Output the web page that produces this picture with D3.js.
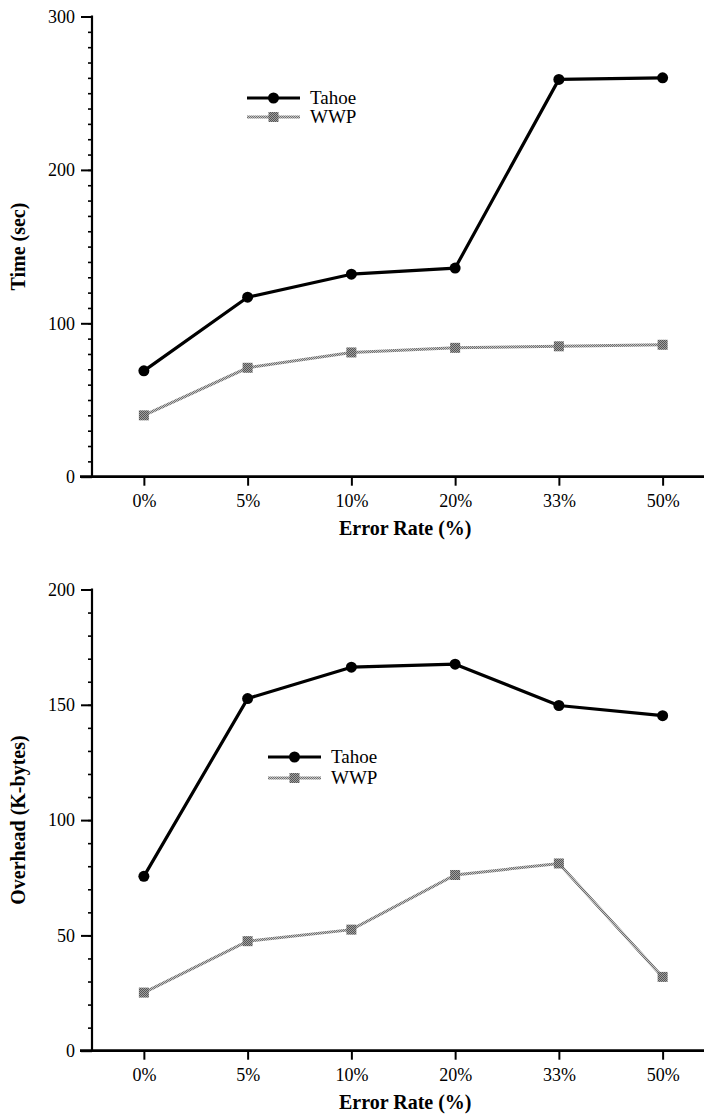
<!DOCTYPE html>
<html>
<head>
<meta charset="utf-8">
<script src="https://cdn.jsdelivr.net/npm/d3@7"></script>
<style>
    body { margin: 0; background: #fff; }
    svg { display: block; }
    .tickLabel { font-family: "Liberation Serif", "Times New Roman", serif; font-size: 18px; fill: #000; }
    .axisTitle { font-family: "Liberation Serif", "Times New Roman", serif; font-size: 20px; font-weight: bold; fill: #000; }
    .legendText { font-family: "Liberation Serif", "Times New Roman", serif; font-size: 19px; fill: #000; }
</style>
</head>
<body>
<div class="chart"></div>
<script>
// data
const errorRates = ["0%", "5%", "10%", "20%", "33%", "50%"];

const timeTahoe = [69, 117, 132, 136, 259, 260];
const timeWWP = [40, 71, 81, 84, 85, 86];
const timeTicks = [0, 100, 200, 300];

const overheadTahoe = [75.6, 152.7, 166.3, 167.6, 149.7, 145.3];
const overheadWWP = [25.2, 47.5, 52.5, 76.2, 81.2, 32];
const overheadTicks = [0, 50, 100, 150, 200];

const seriesNames = ["Tahoe", "WWP"];

const WIDTH = 704, HEIGHT = 1116;
const SERIF = '"Liberation Serif", "Times New Roman", serif';

let svg = d3.select(".chart").append("svg")
    .attr("width", WIDTH)
    .attr("height", HEIGHT);

svg.append("rect")
    .attr("width", WIDTH)
    .attr("height", HEIGHT)
    .attr("fill", "#fff");

// halftone look for the grey series
let defs = svg.append("defs");

function _halftone( id, bg, dot )
{
    let p = defs.append("pattern")
        .attr("id", id)
        .attr("patternUnits", "userSpaceOnUse")
        .attr("width", 2)
        .attr("height", 2);
    p.append("rect").attr("width", 2).attr("height", 2).attr("fill", bg);
    p.append("rect").attr("width", 1).attr("height", 1).attr("fill", dot);
    p.append("rect").attr("x", 1).attr("y", 1).attr("width", 1).attr("height", 1).attr("fill", dot);
}
_halftone("lineTone", "#c4c4c4", "#707070");
_halftone("markTone", "#a0a0a0", "#555555");

// ----- draw one panel ----------------------------------------------
function _drawPanel( opts )
{
    const axisX = 92;

    let x = d3.scalePoint()
        .domain( errorRates )
        .range([ axisX, 714.5 ])
        .padding(0.5);

    let y = d3.scaleLinear()
        .domain([ 0, opts.max ])
        .range([ opts.bottom, opts.top ]);

    let g = svg.append("g");

    // minor ticks every 10
    g.append("g")
        .attr("transform", "translate(" + axisX + ",0)")
        .call( d3.axisLeft(y).tickValues( d3.range(0, opts.max + 1, 10) ).tickSize(4).tickFormat("") )
        .call( a => a.select(".domain").remove() )
        .selectAll("line").attr("stroke-width", 1.6);

    // major ticks + labels
    let yAxis = g.append("g")
        .attr("transform", "translate(" + axisX + ",0)")
        .call( d3.axisLeft(y).tickValues( opts.ticks ).tickSize(11).tickPadding(6) )
        .attr("font-family", SERIF)
        .attr("font-size", 18);
    yAxis.select(".domain").remove();
    yAxis.selectAll("line").attr("stroke-width", 2);
    yAxis.selectAll("text")
        .attr("class", "tickLabel")
        .style("font-family", SERIF)
        .style("font-size", "18px");

    // y axis line
    g.append("line")
        .attr("x1", axisX).attr("x2", axisX)
        .attr("y1", y( opts.max ) - 1).attr("y2", y(0))
        .attr("stroke", "#000")
        .attr("stroke-width", 2.2);

    // x axis
    let xAxis = g.append("g")
        .attr("transform", "translate(0," + y(0) + ")")
        .call( d3.axisBottom(x).tickSize(9).tickPadding(9) )
        .attr("font-family", SERIF)
        .attr("font-size", 18);
    xAxis.select(".domain").remove();
    xAxis.selectAll("line").attr("stroke-width", 2);
    xAxis.selectAll("text")
        .attr("class", "tickLabel")
        .style("font-family", SERIF)
        .style("font-size", "18px");

    g.append("line")
        .attr("x1", axisX - 12).attr("x2", WIDTH)
        .attr("y1", y(0)).attr("y2", y(0))
        .attr("stroke", "#000")
        .attr("stroke-width", 2.8);

    // axis titles
    g.append("text")
        .attr("class", "axisTitle")
        .attr("text-anchor", "middle")
        .attr("x", ( x(errorRates[0]) + x(errorRates[errorRates.length - 1]) ) / 2 + 2)
        .attr("y", y(0) + 58)
        .text("Error Rate (%)");

    g.append("text")
        .attr("class", "axisTitle")
        .attr("text-anchor", "middle")
        .attr("transform", "translate(25," + ( ( y(0) + y(opts.max) ) / 2 ) + ") rotate(-90)")
        .text( opts.yTitle );

    let line = d3.line()
        .x( (d, i) => x( errorRates[i] ) )
        .y( d => y(d) );

    // WWP series
    g.append("path")
        .attr("d", line( opts.wwp ))
        .attr("fill", "none")
        .attr("stroke", "url(#lineTone)")
        .attr("stroke-width", 3);

    g.selectAll(".wwpMark")
        .data( opts.wwp )
        .enter()
            .append("rect")
            .attr("class", "wwpMark")
            .attr("x", (d, i) => x( errorRates[i] ) - 5)
            .attr("y", d => y(d) - 5)
            .attr("width", 10)
            .attr("height", 10)
            .attr("fill", "url(#markTone)");

    // Tahoe series
    g.append("path")
        .attr("d", line( opts.tahoe ))
        .attr("fill", "none")
        .attr("stroke", "#000")
        .attr("stroke-width", 3.2)
        .attr("stroke-linejoin", "round");

    g.selectAll(".tahoeMark")
        .data( opts.tahoe )
        .enter()
            .append("circle")
            .attr("class", "tahoeMark")
            .attr("cx", (d, i) => x( errorRates[i] ))
            .attr("cy", d => y(d))
            .attr("r", 5.5)
            .attr("fill", "#000");

    // legend
    let legend = g.append("g")
        .attr("transform", "translate(" + opts.legend[0] + "," + opts.legend[1] + ")");

    let item = legend.selectAll(".legendItem")
        .data( seriesNames )
        .enter()
            .append("g")
            .attr("class", "legendItem")
            .attr("transform", (d, i) => "translate(0," + ( i * opts.legendGap ) + ")");

    item.append("line")
        .attr("x1", 0).attr("x2", 53)
        .attr("stroke", (d, i) => i === 0 ? "#000" : "url(#lineTone)")
        .attr("stroke-width", (d, i) => i === 0 ? 3.2 : 3);

    item.filter((d, i) => i === 0)
        .append("circle")
        .attr("cx", 26.5)
        .attr("r", 5.5)
        .attr("fill", "#000");

    item.filter((d, i) => i === 1)
        .append("rect")
        .attr("x", 21.5).attr("y", -5)
        .attr("width", 10).attr("height", 10)
        .attr("fill", "url(#markTone)");

    item.append("text")
        .attr("class", "legendText")
        .attr("x", 63)
        .attr("y", 6)
        .text( d => d );
}

_drawPanel({
    max: 300,
    ticks: timeTicks,
    top: 16.5,
    bottom: 476.7,
    tahoe: timeTahoe,
    wwp: timeWWP,
    yTitle: "Time (sec)",
    legend: [247, 98],
    legendGap: 19
});

_drawPanel({
    max: 200,
    ticks: overheadTicks,
    top: 589.5,
    bottom: 1050.7,
    tahoe: overheadTahoe,
    wwp: overheadWWP,
    yTitle: "Overhead (K-bytes)",
    legend: [268, 757],
    legendGap: 21
});
</script>
</body>
</html>
